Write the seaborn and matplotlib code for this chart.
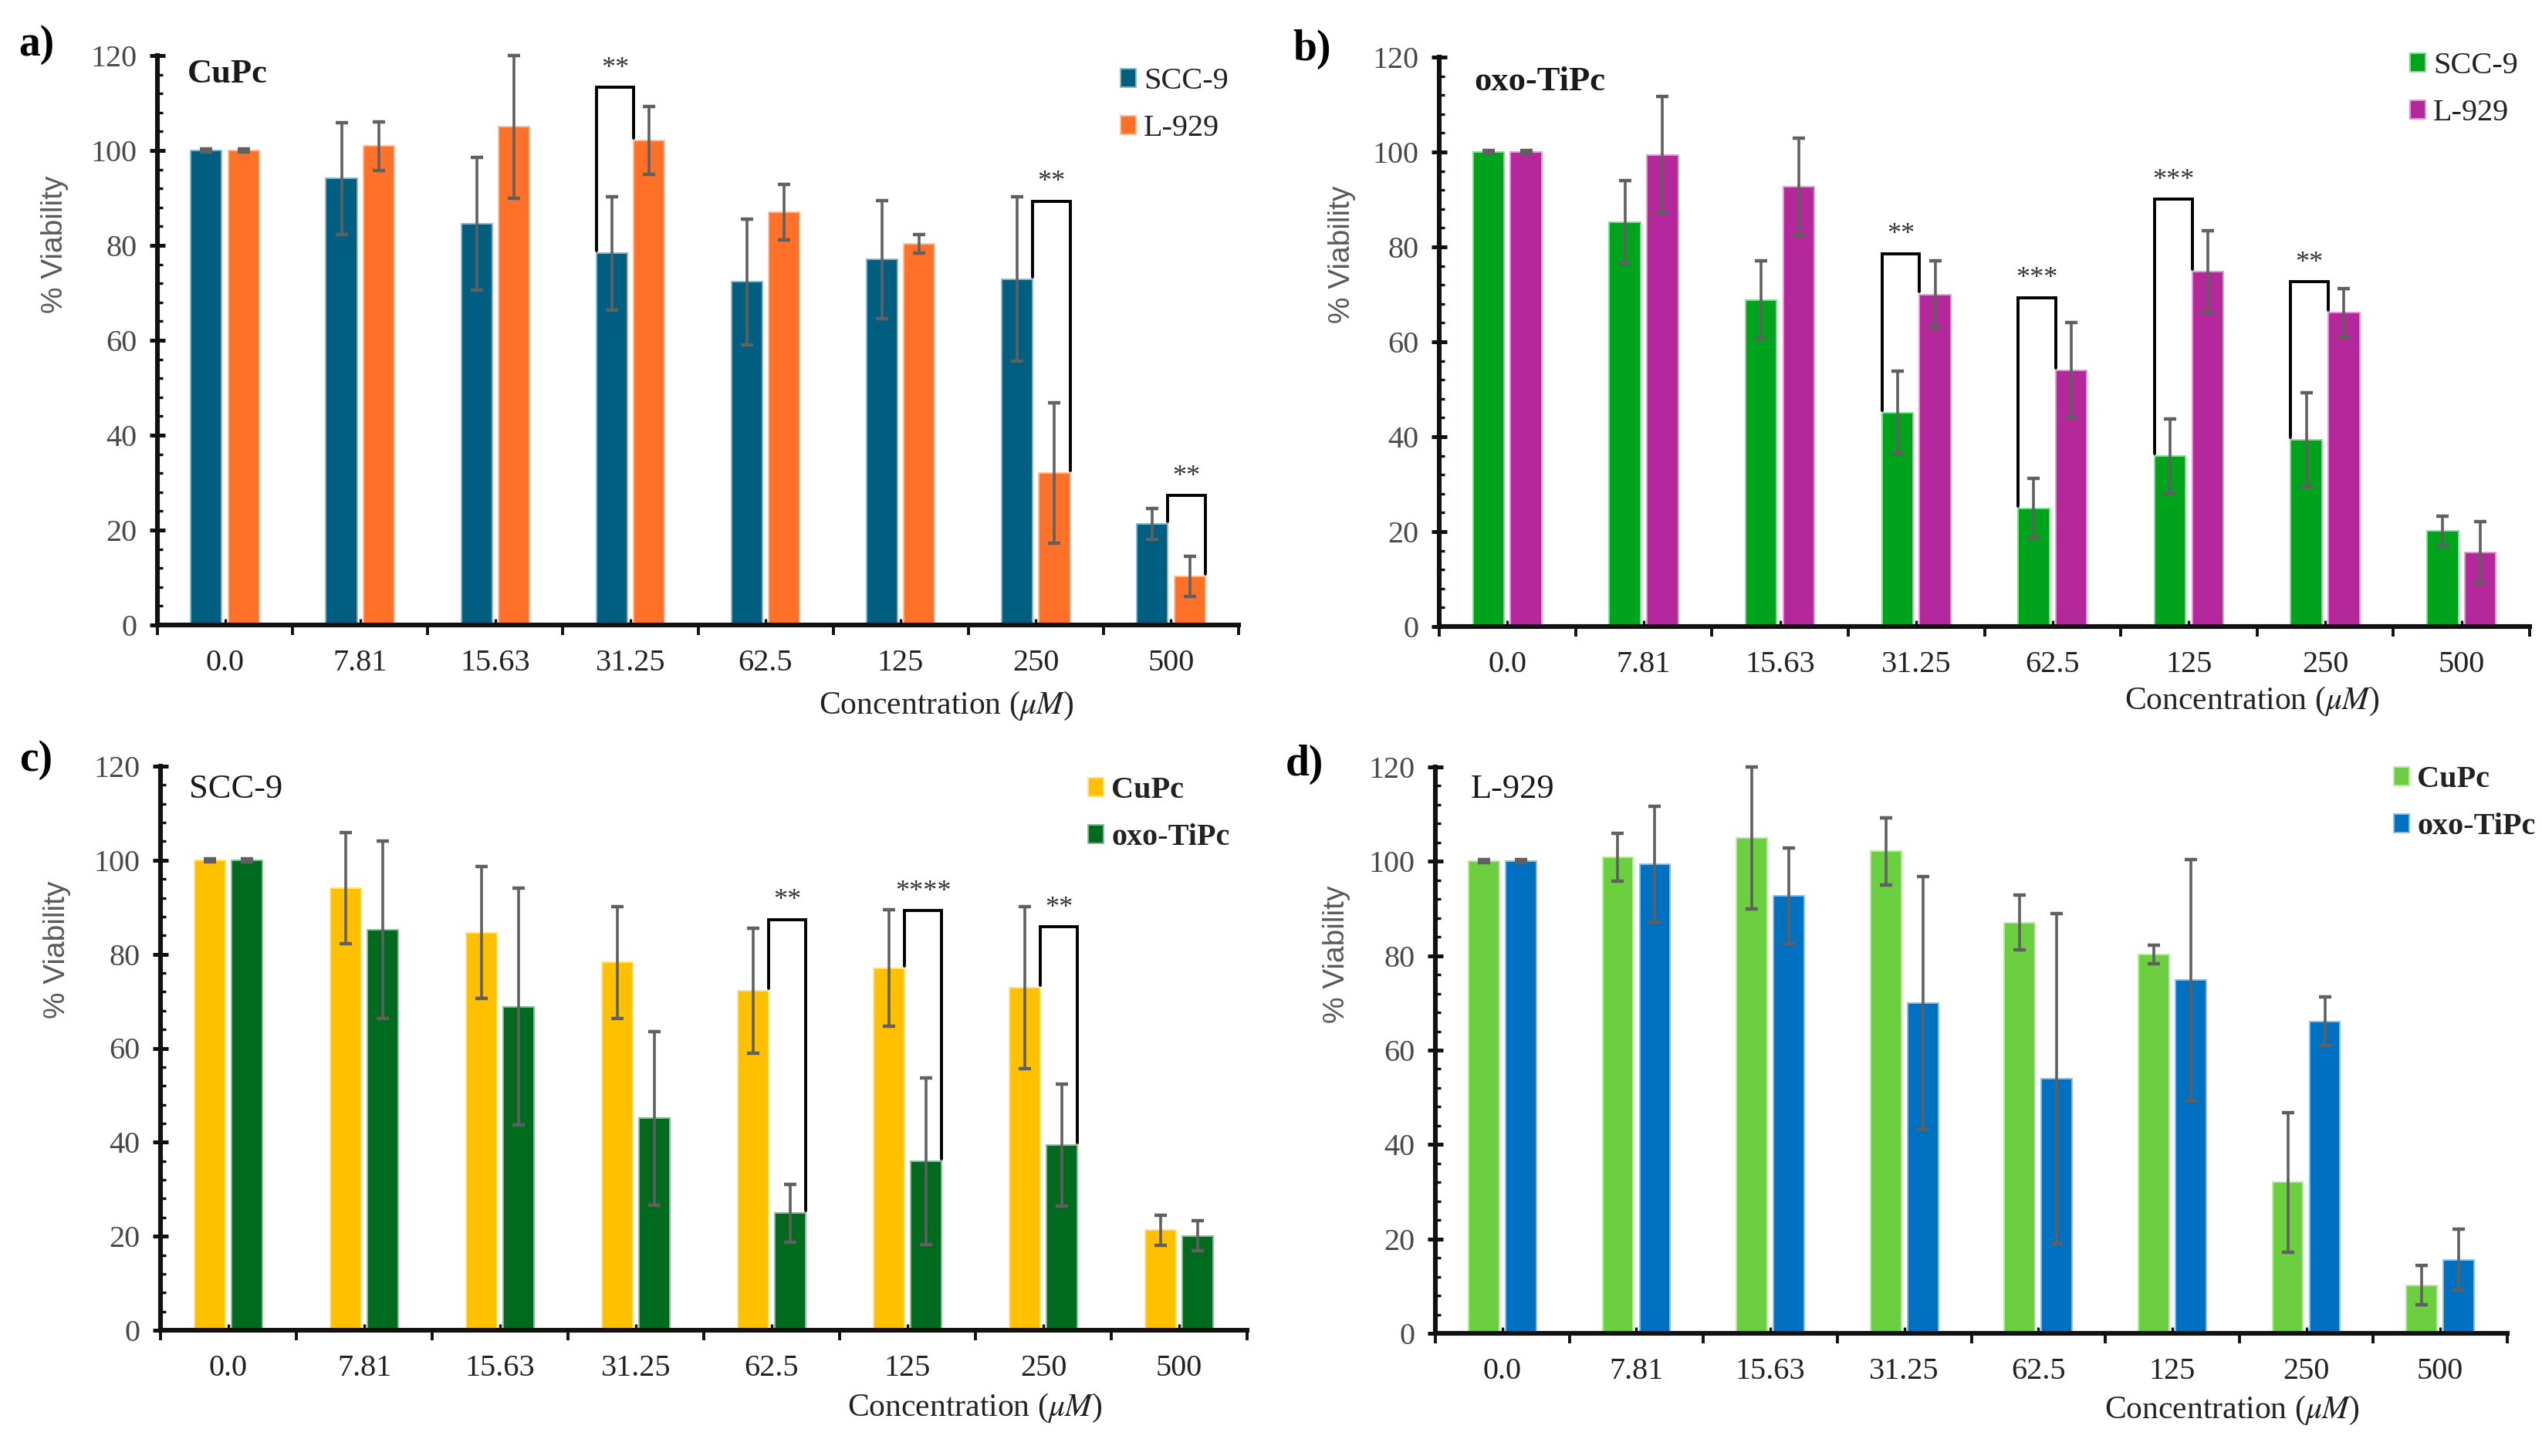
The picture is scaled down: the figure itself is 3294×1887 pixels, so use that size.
import numpy as np
import pandas as pd
import matplotlib
matplotlib.use("Agg")
import matplotlib.pyplot as plt
from matplotlib.patches import Patch
from matplotlib.ticker import MultipleLocator, FixedLocator
from matplotlib.colors import to_rgb
import seaborn as sns

# ---------------- data ----------------
conc = ["0.0", "7.81", "15.63", "31.25", "62.5", "125", "250", "500"]

cupc_scc9 = [100.0, 94.1, 84.6, 78.3, 72.3, 77.0, 72.9, 21.3]
cupc_scc9_err = [0.3, 11.8, 14.0, 11.9, 13.3, 12.4, 17.3, 3.2]
cupc_l929 = [100.0, 100.9, 105.0, 102.1, 87.0, 80.3, 32.0, 10.2]
cupc_l929_err = [0.3, 5.1, 15.0, 7.1, 5.8, 2.0, 14.8, 4.2]

oxo_scc9 = [100.0, 85.2, 68.8, 45.1, 24.9, 35.9, 39.4, 20.1]
oxo_scc9_err_b = [0.3, 8.8, 8.2, 8.7, 6.4, 7.9, 9.9, 3.2]
oxo_scc9_err_c = [0.3, 18.8, 25.2, 18.5, 6.2, 17.7, 12.9, 3.2]
oxo_l929 = [100.0, 99.4, 92.7, 70.0, 54.0, 74.8, 66.1, 15.6]
oxo_l929_err_b = [0.3, 12.3, 10.2, 7.0, 10.0, 8.6, 5.1, 6.5]
oxo_l929_err_d = [0.3, 12.2, 10.1, 26.8, 35.0, 25.6, 5.2, 6.4]

# significance brackets: category index, bracket top, label
sig_a_idx = [3, 6, 7]
sig_a_top = [113.3, 89.3, 27.3]
sig_a_lab = ["**", "**", "**"]
sig_b_idx = [3, 4, 5, 6]
sig_b_top = [78.6, 69.3, 90.1, 72.7]
sig_b_lab = ["**", "***", "***", "**"]
sig_c_idx = [4, 5, 6]
sig_c_top = [87.4, 89.3, 85.8]
sig_c_lab = ["**", "****", "**"]

# ---------------- style ----------------
sns.set_theme(style="white")
plt.rcParams['font.family'] = ['Liberation Serif', 'DejaVu Serif']
plt.rcParams['mathtext.fontset'] = 'stix'

W, H = 3294, 1887
fig = plt.figure(figsize=(W / 200, H / 200), dpi=200)


def fx(px):
    return px / W


def fy(py):
    return 1 - py / H


def lighten(c, f=0.55):
    r, g, b = to_rgb(c)
    return (r + (1 - r) * f, g + (1 - g) * f, b + (1 - b) * f)


panels = [
    dict(rect=(204, 72, 1605, 810), tag="a)", tag_xy=(47, 58),
         title="CuPc", title_bold=True, title_xy=(295, 96),
         groups=["SCC-9", "L-929"], vals=[cupc_scc9, cupc_l929],
         errs=[cupc_scc9_err, cupc_l929_err],
         colors=["#005E80", "#FF7029"], legend_bold=False, legend_xy=(1452, 136),
         ylabel_xy=(71, 317), xlabel_xy=(1226, 915),
         sig=(sig_a_idx, sig_a_top, sig_a_lab), sides=[-1, 1, 1]),
    dict(rect=(1865, 74, 3278, 812), tag="b)", tag_xy=(1700, 64),
         title="oxo-TiPc", title_bold=True, title_xy=(1995, 106),
         groups=["SCC-9", "L-929"], vals=[oxo_scc9, oxo_l929],
         errs=[oxo_scc9_err_b, oxo_l929_err_b],
         colors=["#00A41C", "#B5289B"], legend_bold=False, legend_xy=(3123, 116),
         ylabel_xy=(1739, 330), xlabel_xy=(2918, 909),
         sig=(sig_b_idx, sig_b_top, sig_b_lab), sides=[-1, -1, -1, -1]),
    dict(rect=(208, 993, 1616, 1724), tag="c)", tag_xy=(47, 985),
         title="SCC-9", title_bold=False, title_xy=(306, 1023),
         groups=["CuPc", "oxo-TiPc"], vals=[cupc_scc9, oxo_scc9],
         errs=[cupc_scc9_err, oxo_scc9_err_c],
         colors=["#FFC000", "#006A1E"], legend_bold=True, legend_xy=(1410, 1055),
         ylabel_xy=(74, 1231), xlabel_xy=(1263, 1825),
         sig=(sig_c_idx, sig_c_top, sig_c_lab), sides=[1, 1, 1]),
    dict(rect=(1860, 994, 3249, 1728), tag="d)", tag_xy=(1690, 991),
         title="L-929", title_bold=False, title_xy=(1960, 1023),
         groups=["CuPc", "oxo-TiPc"], vals=[cupc_l929, oxo_l929],
         errs=[cupc_l929_err, oxo_l929_err_d],
         colors=["#6CCF40", "#0070C0"], legend_bold=True, legend_xy=(3102, 1041),
         ylabel_xy=(1732, 1237), xlabel_xy=(2892, 1828),
         sig=None, sides=[]),
]

for p in panels:
    x0, y0, x1, y1 = p["rect"]
    ax = fig.add_axes([fx(x0), fy(y1), (x1 - x0) / W, (y1 - y0) / H])

    df = pd.DataFrame({
        "conc": conc * 2,
        "group": [p["groups"][0]] * len(conc) + [p["groups"][1]] * len(conc),
        "viability": list(p["vals"][0]) + list(p["vals"][1]),
    })
    sns.barplot(data=df, x="conc", y="viability", hue="group",
                order=conc, hue_order=p["groups"], palette=p["colors"],
                width=0.552, gap=0.17, errorbar=None, saturation=1,
                legend=False, ax=ax, zorder=2)

    bars = []
    for cont, errs, col in zip(ax.containers, p["errs"], p["colors"]):
        bl = sorted(list(cont), key=lambda r: r.get_x())
        for b in bl:
            b.set_edgecolor(lighten(col))
            b.set_linewidth(0.7)
        bars.append(bl)
        xs = [b.get_x() + b.get_width() / 2 for b in bl]
        hs = [b.get_height() for b in bl]
        ax.errorbar(xs, hs, yerr=errs, fmt="none", ecolor="#606060",
                    elinewidth=1.3, capsize=3.0, capthick=1.6,
                    clip_on=False, zorder=3)

    # significance brackets
    if p["sig"] is not None:
        idxs, tops, labs = p["sig"]
        for i, top, lab, side in zip(idxs, tops, labs, p["sides"]):
            b0 = bars[0][i]
            b1 = bars[1][i]
            if side < 0:
                xa, xb = b0.get_x(), b1.get_x()
            else:
                xa, xb = b0.get_x() + b0.get_width(), b1.get_x() + b1.get_width()
            ya = b0.get_height() + 0.5
            yb = b1.get_height() + 0.5
            ax.plot([xa, xa, xb, xb], [ya, top, top, yb], color="black",
                    lw=1.4, clip_on=False, zorder=4, solid_joinstyle="miter")
            ax.text((xa + xb) / 2, top + 1.2, lab, ha="center", va="bottom",
                    fontsize=13, color="#333333")

    ax.set_xlim(-0.5, len(conc) - 0.5)
    ax.set_ylim(0, 120)
    ax.set_xlabel("")
    ax.set_ylabel("")
    for s in ["top", "right"]:
        ax.spines[s].set_visible(False)
    for s in ["left", "bottom"]:
        ax.spines[s].set_color("#111111")
        ax.spines[s].set_linewidth(2.2)
    ax.spines["bottom"].set_zorder(5)

    ax.yaxis.set_major_locator(MultipleLocator(20))
    ax.yaxis.set_minor_locator(MultipleLocator(4))
    ax.xaxis.set_minor_locator(FixedLocator(np.arange(-0.5, len(conc), 1.0)))
    ax.tick_params(axis="y", which="major", direction="inout", length=7.2,
                   width=1.8, color="#111111", pad=6, labelsize=14.5,
                   labelcolor="#4a4a4a", left=True)
    ax.tick_params(axis="y", which="minor", direction="in", length=2.6,
                   width=1.2, color="#111111", left=True)
    ax.tick_params(axis="x", which="major", direction="in", length=2.9,
                   width=1.2, color="#111111", pad=11, labelsize=14.5,
                   labelcolor="#222222", bottom=True)
    ax.tick_params(axis="x", which="minor", direction="out", length=4.6,
                   width=1.4, color="#111111", bottom=True)
    ax.grid(False)

    # legend
    handles = [Patch(facecolor=c, edgecolor=lighten(c), linewidth=0.7, label=g)
               for g, c in zip(p["groups"], p["colors"])]
    lx, ly = p["legend_xy"]
    leg = ax.legend(handles=handles, loc="center left",
                    bbox_to_anchor=(fx(lx), fy(ly)), bbox_transform=fig.transFigure,
                    frameon=False, handlelength=0.5, handleheight=0.55,
                    handletextpad=0.25, labelspacing=0.6, borderpad=0,
                    borderaxespad=0,
                    prop={"size": 14.5, "weight": "bold" if p["legend_bold"] else "normal"})
    for t in leg.get_texts():
        t.set_color("#222222")

    # texts
    tx, ty = p["title_xy"]
    fig.text(fx(tx), fy(ty), p["title"], ha="center", va="center", fontsize=16,
             fontweight="bold" if p["title_bold"] else "normal", color="#1a1a1a")
    gx, gy = p["tag_xy"]
    fig.text(fx(gx), fy(gy), p["tag"], ha="center", va="center", fontsize=20,
             fontweight="bold", color="black")
    yx, yy = p["ylabel_xy"]
    fig.text(fx(yx), fy(yy), "% Viability", ha="center", va="center", rotation=90,
             fontsize=14, color="#595959", family=["Liberation Sans", "DejaVu Sans"])
    xx, xy = p["xlabel_xy"]
    fig.text(fx(xx), fy(xy), r"Concentration ($\mu M$)", ha="center", va="center",
             fontsize=15, color="#222222")

fig.savefig("out.png", dpi=200, facecolor="white")
